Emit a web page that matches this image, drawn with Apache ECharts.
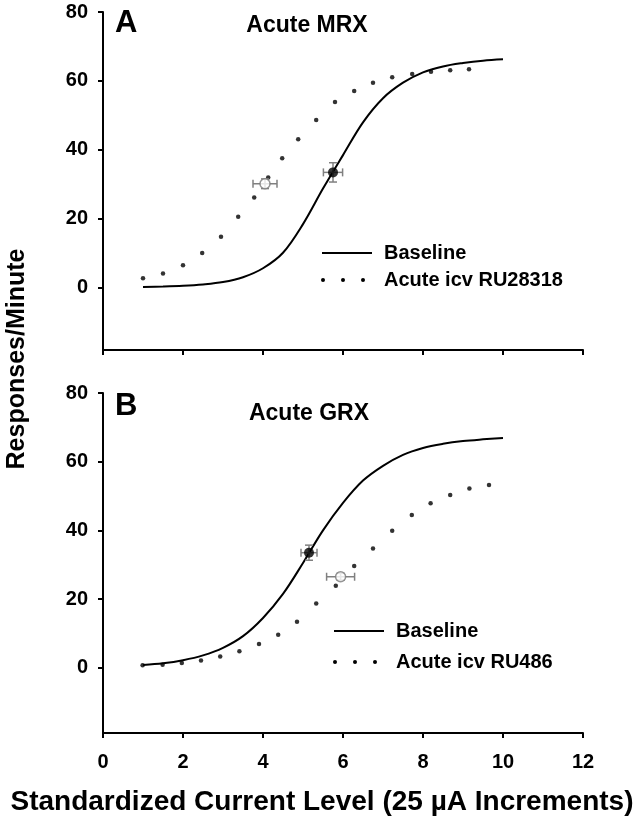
<!DOCTYPE html>
<html>
<head>
<meta charset="utf-8">
<script src="https://cdn.jsdelivr.net/npm/echarts@6/dist/echarts.min.js"></script>
<style>html,body{margin:0;padding:0;background:#fff}#c{width:644px;height:816px}</style>
</head>
<body>
<div id="c"></div>
<script>
// ---- data ----
const xTickValues = [0, 2, 4, 6, 8, 10, 12];
const yTickValues = [0, 20, 40, 60, 80];

const baselineX = [1, 1.5, 2, 2.5, 3, 3.5, 4, 4.5, 5, 5.5, 6, 6.5, 7, 7.5, 8, 8.5, 9, 9.5, 10];
const baselineA = [0.3, 0.4, 0.6, 1.0, 1.7, 3.1, 5.7, 10.2, 18.5, 28.8, 38.5, 48, 55, 59.5, 62.5, 64.2, 65.2, 65.9, 66.3];
const baselineB = [0.8, 1.3, 2.2, 3.6, 5.8, 9.2, 14.5, 21.5, 30.5, 40, 48, 54.5, 58.8, 62, 64, 65.2, 66, 66.5, 66.9];

const ru28318X = [1.0, 1.5, 2.0, 2.48, 2.95, 3.38, 3.78, 4.13, 4.48, 4.88, 5.33, 5.8, 6.28, 6.75, 7.23, 7.73, 8.2, 8.68, 9.15];
const ru28318Y = [2.8, 4.2, 6.6, 10.1, 14.8, 20.6, 26.2, 32.0, 37.6, 43.1, 48.7, 53.9, 57.1, 59.5, 61.1, 62.0, 62.7, 63.1, 63.4];

const ru486X = [0.99, 1.49, 1.97, 2.45, 2.93, 3.41, 3.9, 4.38, 4.85, 5.33, 5.82, 6.28, 6.75, 7.23, 7.72, 8.19, 8.68, 9.16, 9.65];
const ru486Y = [0.7, 0.9, 1.4, 2.1, 3.3, 4.8, 6.9, 9.6, 13.4, 18.7, 23.9, 29.6, 34.7, 39.9, 44.5, 47.9, 50.3, 52.2, 53.2];

// mean points: [x, y, xError, yError]
const meanBaselineA = [5.75, 33.5, 0.24, 2.8];
const meanDrugA = [4.05, 30.2, 0.3, 1.4];
const meanBaselineB = [5.15, 33.5, 0.2, 2.2];
const meanDrugB = [5.94, 26.5, 0.35, 1.0];

const panelLabels = ['A', 'B'];
const panelTitles = ['Acute MRX', 'Acute GRX'];
const legendA = ['Baseline', 'Acute icv RU28318'];
const legendB = ['Baseline', 'Acute icv RU486'];
const xAxisTitle = 'Standardized Current Level (25 \u00b5A Increments)';
const yAxisTitle = 'Responses/Minute';

// ---- chart ----
const FONT = '"Liberation Sans", Arial, sans-serif';
const chart = echarts.init(document.getElementById('c'), null, {renderer: 'canvas'});

function zip(xs, ys) { return xs.map((x, i) => [x, ys[i]]); }

const axisLineStyle = {show: true, onZero: false, lineStyle: {color: '#000', width: 2}};
const axisTickStyle = {show: true, length: 5, lineStyle: {color: '#000', width: 2}};
const labelStyle = {color: '#000', fontSize: 20, fontWeight: 'bold', fontFamily: FONT};

function xAxisFor(grid, showLabels) {
  return {
    type: 'value', gridIndex: grid, min: 0, max: 12, interval: 2,
    axisLine: axisLineStyle, axisTick: axisTickStyle,
    axisLabel: Object.assign({show: showLabels, margin: 19}, labelStyle),
    splitLine: {show: false}
  };
}
function yAxisFor(grid, min) {
  return {
    type: 'value', gridIndex: grid, min: min, max: 80,
    axisLine: axisLineStyle,
    axisTick: Object.assign({customValues: yTickValues}, axisTickStyle),
    axisLabel: Object.assign({customValues: yTickValues, margin: 15}, labelStyle),
    splitLine: {show: false}
  };
}

function errorBarSeries(xi, yi, points) {
  return {
    type: 'custom', xAxisIndex: xi, yAxisIndex: yi, z: 3,
    data: points,
    renderItem: function (params, api) {
      const x = api.value(0), y = api.value(1), ex = api.value(2), ey = api.value(3);
      const l = api.coord([x - ex, y]), r = api.coord([x + ex, y]);
      const t = api.coord([x, y + ey]), b = api.coord([x, y - ey]);
      const cap = 4;
      const st = {stroke: '#808080', lineWidth: 1.5};
      return {
        type: 'group',
        children: [
          {type: 'line', shape: {x1: l[0], y1: l[1], x2: r[0], y2: r[1]}, style: st},
          {type: 'line', shape: {x1: l[0], y1: l[1] - cap, x2: l[0], y2: l[1] + cap}, style: st},
          {type: 'line', shape: {x1: r[0], y1: r[1] - cap, x2: r[0], y2: r[1] + cap}, style: st},
          {type: 'line', shape: {x1: t[0], y1: t[1], x2: b[0], y2: b[1]}, style: st},
          {type: 'line', shape: {x1: t[0] - cap, y1: t[1], x2: t[0] + cap, y2: t[1]}, style: st},
          {type: 'line', shape: {x1: b[0] - cap, y1: b[1], x2: b[0] + cap, y2: b[1]}, style: st}
        ]
      };
    }
  };
}

function panelSeries(idx, baseY, dotsX, dotsY, meanBase, meanDrug) {
  return [
    {type: 'line', xAxisIndex: idx, yAxisIndex: idx, data: zip(baselineX, baseY), smooth: 0.35,
     showSymbol: false, lineStyle: {color: '#000', width: 2}, z: 2, silent: true},
    {type: 'scatter', xAxisIndex: idx, yAxisIndex: idx, data: zip(dotsX, dotsY), symbol: 'circle',
     symbolSize: 4.5, itemStyle: {color: '#000'}, z: 2, silent: true},
    errorBarSeries(idx, idx, [meanBase, meanDrug]),
    {type: 'scatter', xAxisIndex: idx, yAxisIndex: idx, data: [meanBase.slice(0, 2)], symbolSize: 10,
     itemStyle: {color: '#000'}, z: 4, silent: true},
    {type: 'scatter', xAxisIndex: idx, yAxisIndex: idx, data: [meanDrug.slice(0, 2)], symbolSize: 10,
     itemStyle: {color: '#fff', borderColor: '#7a7a7a', borderWidth: 1.5}, z: 4, silent: true}
  ];
}

function txt(text, x, y, size, align, extra) {
  return Object.assign({
    type: 'text', x: x, y: y,
    style: {text: text, font: 'bold ' + size + 'px ' + FONT, fill: '#000',
            textAlign: align, textVerticalAlign: 'middle'}
  }, extra || {});
}
function legendGraphics(ox, y1, y2, labels) {
  return [
    {type: 'line', shape: {x1: ox, y1: y1, x2: ox + 50, y2: y1}, style: {stroke: '#000', lineWidth: 2}},
    {type: 'circle', shape: {cx: ox + 1, cy: y2, r: 2}, style: {fill: '#000'}},
    {type: 'circle', shape: {cx: ox + 21, cy: y2, r: 2}, style: {fill: '#000'}},
    {type: 'circle', shape: {cx: ox + 41, cy: y2, r: 2}, style: {fill: '#000'}},
    txt(labels[0], ox + 62, y1, 20, 'left'),
    txt(labels[1], ox + 62, y2, 20, 'left')
  ];
}

const option = {
  backgroundColor: '#fff',
  animation: false,
  grid: [
    {left: 103, width: 480, top: 12, height: 338},
    {left: 103, width: 480, top: 393, height: 340}
  ],
  xAxis: [xAxisFor(0, false), xAxisFor(1, true)],
  yAxis: [yAxisFor(0, -18), yAxisFor(1, -19)],
  series: [].concat(
    panelSeries(0, baselineA, ru28318X, ru28318Y, meanBaselineA, meanDrugA),
    panelSeries(1, baselineB, ru486X, ru486Y, meanBaselineB, meanDrugB)
  ),
  graphic: [].concat(
    [
      txt(panelLabels[0], 115, 23, 31, 'left'),
      txt(panelLabels[1], 115, 406, 31, 'left'),
      txt(panelTitles[0], 307, 26, 23, 'center'),
      txt(panelTitles[1], 309, 414, 23, 'center'),
      txt(xAxisTitle, 322, 802, 28, 'center'),
      txt(yAxisTitle, 17, 359, 25, 'center', {rotation: Math.PI / 2})
    ],
    legendGraphics(322, 253, 280, legendA),
    legendGraphics(334, 631, 662, legendB)
  )
};
chart.setOption(option);
</script>
</body>
</html>
